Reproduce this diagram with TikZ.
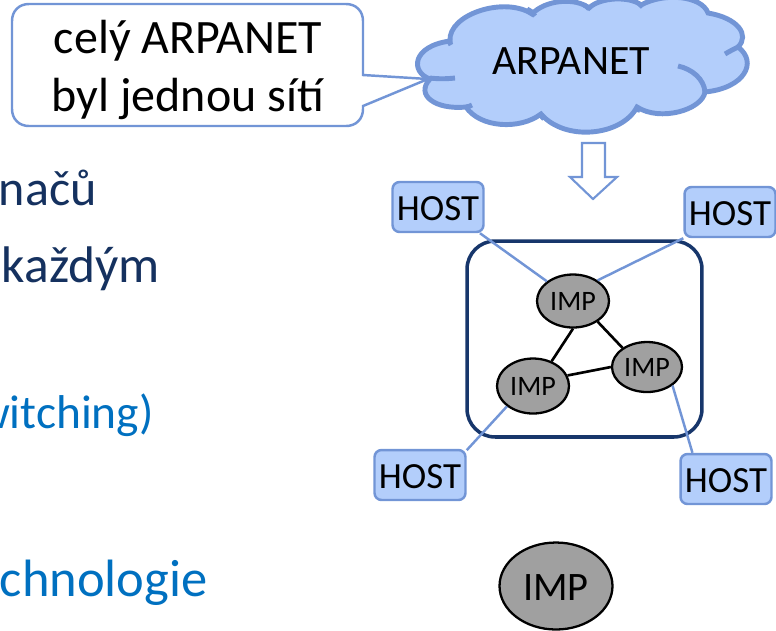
\documentclass[tikz,border=0pt]{standalone}
\usepackage{fontspec}
\setmainfont{Carlito}
\usetikzlibrary{positioning, shapes.geometric}
\definecolor{hostfill}{HTML}{B3CEFB}
\definecolor{hostline}{HTML}{7295D6}
\definecolor{impfill}{HTML}{A0A0A0}
\definecolor{netline}{HTML}{17366B}
\definecolor{textnavy}{HTML}{15315F}
\definecolor{textblue}{HTML}{0070C0}
\newcommand{\FontPx}[1]{\fontsize{#1}{#1}\selectfont}
\tikzset{
    host/.style={draw=hostline, fill=hostfill, line width=1.4pt, rounded corners=4pt,
      minimum width=1.82cm, minimum height=1cm, inner sep=0pt, text height=15.5pt, font=\FontPx{21}},
    imp/.style={ellipse, draw=black, fill=impfill, line width=1.3pt, inner sep=0pt, font=\FontPx{16}},
    hostlink/.style={draw=hostline, line width=1.4pt},
    implink/.style={draw=black, line width=1.5pt},
    bodytext/.style={anchor=base east, inner sep=0pt, font=\FontPx{28.5}},
}
\begin{document}
\begin{tikzpicture}[x=0.02cm, y=-0.02cm]
    \useasboundingbox (0,0) rectangle (776,630);

    % callout
    \draw[draw=hostline, fill=white, line width=1.4pt]
      (29,4) -- (346,4) .. controls (356,4) and (363,11) .. (363,21) -- (363,75) -- (428,79) -- (363,106)
      -- (363,109) .. controls (363,119) and (356,126) .. (346,126) -- (29,126)
      .. controls (19,126) and (12,119) .. (12,109) -- (12,21) .. controls (12,11) and (19,4) .. (29,4) -- cycle;
    \node[align=center, inner sep=0pt, font=\fontsize{27.3}{33.5}\selectfont] (note) at (188,70)
      {celý ARPANET\\byl jednou sítí};

    % cloud
    \draw[draw=hostline, fill=hostfill, line width=2.8pt]
      (430,79) .. controls (410,72) and (412,46) .. (450,41)
      .. controls (448,14) and (505,-4) .. (532,14)
      .. controls (545,0) and (575,-3) .. (589,8)
      .. controls (600,-3) and (630,-4) .. (641,5)
      .. controls (665,-8) and (702,-4) .. (708,13)
      .. controls (738,18) and (750,35) .. (738,47)
      .. controls (758,62) and (745,88) .. (705,92)
      .. controls (702,110) and (660,122) .. (637,107)
      .. controls (622,136) and (565,142) .. (541,114)
      .. controls (520,130) and (480,128) .. (466,107)
      .. controls (435,110) and (415,95) .. (430,79) -- cycle;
    \draw[draw=hostline, line width=2.8pt]
      (430,78) .. controls (438,79) and (446,79) .. (455,78)
      (450,41) .. controls (450,43) and (450,44) .. (451,45)
      (527,9) .. controls (530,10) and (532,12) .. (535,16)
      (584,5) .. controls (586,6) and (588,7) .. (589,9)
      (641,5) .. controls (640,6) and (640,6) .. (639,7)
      (738,47) .. controls (734,49) and (730,51) .. (725,54)
      (678,66) .. controls (692,69) and (704,79) .. (705,92)
      (637,107) .. controls (638,109) and (638,110) .. (637,112)
      (541,114) .. controls (541,116) and (542,117) .. (544,119)
      (466,107) .. controls (468,107) and (470,106) .. (472,105);
    \node[inner sep=0pt, font=\FontPx{23.8}] (arpanet) at (571,61) {ARPANET};

    % arrow to the detail below
    \draw[draw=hostline, fill=white, line width=1.2pt]
      (582,143) -- (605,143) -- (605,177) -- (617,177) -- (593,199) -- (570,177) -- (582,177) -- cycle;

    % left edge of the slide
    \node[bodytext, text=textnavy] (lineA) at (97,205) {načů};
    \node[bodytext, text=textnavy, font=\FontPx{29.3}] (lineB) at (160,282) {každým};
    \node[bodytext, text=textblue, font=\FontPx{27}] (lineC) at (154,428) {witching)};
    \node[bodytext, text=textblue, font=\FontPx{29.9}] (lineD) at (208,596) {chnologie};

    \node[draw=netline, line width=2pt, rounded corners=16pt, minimum width=4.7cm, minimum height=3.92cm] (net) at (584.5,339) {};

    \node[imp, minimum width=1.44cm, minimum height=1.06cm] (impA) at (573,301) {IMP};
    \node[imp, minimum width=1.44cm, minimum height=1.1cm] (impB) at (533,386) {IMP};
    \node[imp, minimum width=1.4cm, minimum height=1cm] (impC) at (647,367) {IMP};
    \node[imp, minimum width=2.26cm, minimum height=1.74cm, text height=16.5pt, font=\FontPx{23}] (impD) at (556,586) {IMP};

    \node[host] (hostA) at (438,207) {HOST};
    \node[host] (hostB) at (730,212) {HOST};
    \node[host] (hostC) at (420,475) {HOST};
    \node[host] (hostD) at (726,479) {HOST};

    \draw[implink] (impA.-90) -- (impB.53);
    \draw[implink] (impA.-40) -- (impC.142);
    \draw[implink] (impB.17) -- (impC.180);

    \draw[hostlink] (hostA.-32) -- (impA.143);
    \draw[hostlink] (hostB.south west) -- (impA.40);
    \draw[hostlink] (hostC.28) -- (impB.218);
    \draw[hostlink] (hostD.142) -- (impC.-36);
\end{tikzpicture}
\end{document}
